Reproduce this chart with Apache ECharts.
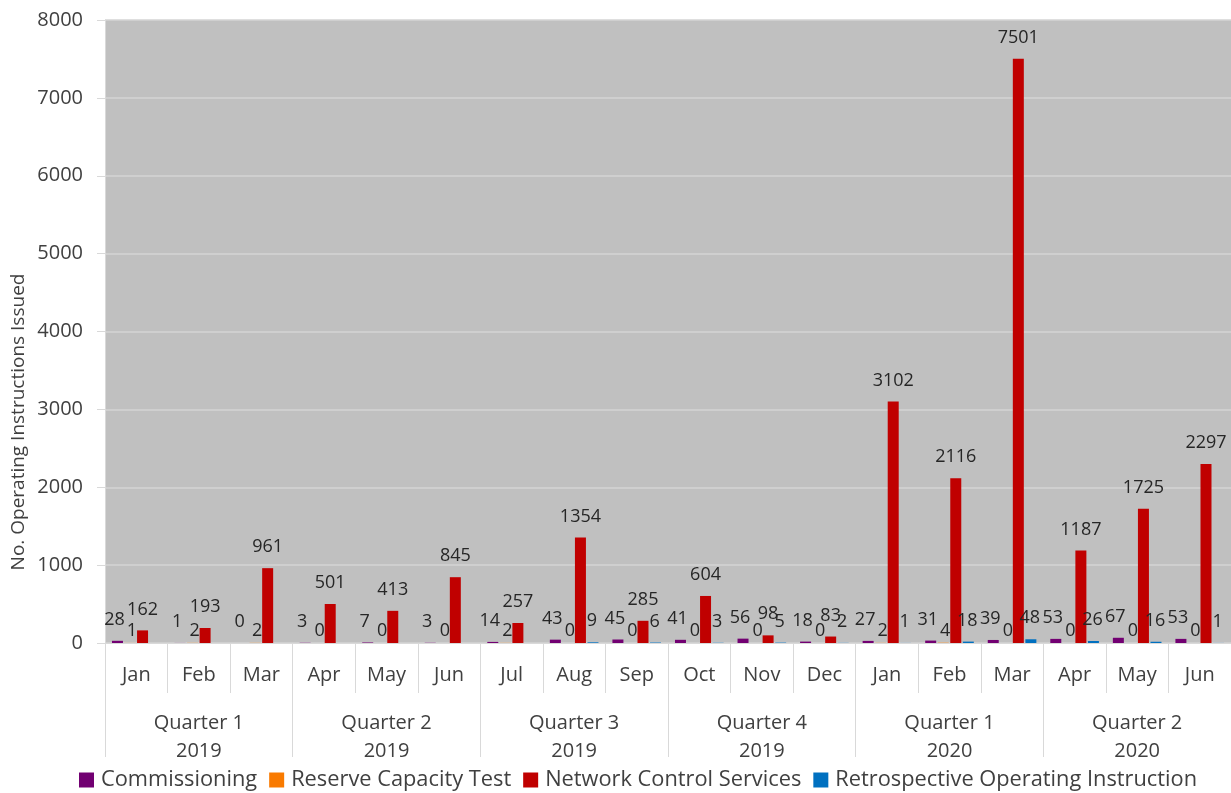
<!DOCTYPE html>
<html>
<head>
<meta charset="utf-8">
<script src="https://cdn.jsdelivr.net/npm/echarts@6/dist/echarts.min.js"></script>
<style>
  html, body { margin: 0; padding: 0; background: #fff; }
  #chart { width: 1231px; height: 793px; }
</style>
</head>
<body>
<div id="chart"></div>
<script>
const months = ['Jan', 'Feb', 'Mar', 'Apr', 'May', 'Jun', 'Jul', 'Aug', 'Sep', 'Oct', 'Nov', 'Dec',
  'Jan', 'Feb', 'Mar', 'Apr', 'May', 'Jun']
const quarters = ['Quarter 1\n2019', 'Quarter 2\n2019', 'Quarter 3\n2019', 'Quarter 4\n2019',
  'Quarter 1\n2020', 'Quarter 2\n2020']

const commissioning = [28, 1, 0, 3, 7, 3, 14, 43, 45, 41, 56, 18, 27, 31, 39, 53, 67, 53]
const reserveCapacity = [1, 2, 2, 0, 0, 0, 2, 0, 0, 0, 0, 0, 2, 4, 0, 0, 0, 0]
const networkControl = [162, 193, 961, 501, 413, 845, 257, 1354, 285, 604, 98, 83, 3102, 2116, 7501, 1187, 1725, 2297]
const retrospective = [null, null, null, null, null, null, null, 9, 6, 3, 5, 2, 1, 18, 48, 26, 16, 1]

const yMin = 0
const yMax = 8000
const yStep = 1000

const font = '"Open Sans", "Noto Sans", sans-serif'
const textColor = '#404040'
const lineColor = '#d9d9d9'

const chart = echarts.init(document.getElementById('chart'))

// labelOffset nudges small labels apart, roughly like the original
function barSeries(name, data, color, labelOffset) {
  return {
    name,
    type: 'bar',
    data,
    barWidth: 11,
    barGap: '14%',
    itemStyle: { color },
    label: {
      show: true,
      position: 'top',
      distance: 12,
      offset: labelOffset || [0, 0],
      color: '#262626',
      fontFamily: font,
      fontSize: 18,
    },
  }
}

chart.setOption({
  animation: false,
  textStyle: { fontFamily: font },
  grid: {
    left: 105,
    right: 0,
    top: 20,
    bottom: 150,
    show: true,
    backgroundColor: '#c0c0c0',
    borderWidth: 0,
  },
  legend: {
    top: 764,
    left: 74,
    itemWidth: 15,
    itemHeight: 15,
    itemGap: 12,
    icon: 'rect',
    textStyle: { color: textColor, fontSize: 21.8, fontFamily: font, padding: [0, 0, 0, 2] },
  },
  graphic: [
    {
      type: 'text',
      x: 9,
      y: 422,
      rotation: Math.PI / 2,
      style: {
        text: 'No. Operating Instructions Issued',
        fill: textColor,
        fontSize: 19,
        fontFamily: font,
        align: 'center',
        verticalAlign: 'top',
      },
    },
  ],
  xAxis: [
    {
      type: 'category',
      data: months,
      gridIndex: 0,
      axisLine: { show: true, lineStyle: { color: lineColor } },
      axisTick: { show: true, length: 50, lineStyle: { color: lineColor } },
      axisLabel: { color: textColor, fontSize: 20, margin: 22, fontFamily: font },
    },
    {
      type: 'category',
      data: quarters,
      gridIndex: 0,
      position: 'bottom',
      axisLine: { show: false },
      axisTick: { show: true, length: 114, lineStyle: { color: lineColor } },
      axisLabel: { color: textColor, fontSize: 20, margin: 66, lineHeight: 28, fontFamily: font },
    },
  ],
  yAxis: {
    type: 'value',
    min: yMin,
    max: yMax,
    interval: yStep,
    axisLine: { show: true, lineStyle: { color: lineColor } },
    axisTick: { show: true, length: 8, lineStyle: { color: lineColor } },
    axisLabel: {
      color: textColor,
      fontSize: 20,
      margin: 22,
      fontFamily: font,
      formatter: (value) => String(value),
    },
    splitLine: { lineStyle: { color: '#d4d4d4', width: 1.5 } },
  },
  series: [
    barSeries('Commissioning', commissioning, '#720072', [-3, 0]),
    barSeries('Reserve Capacity Test', reserveCapacity, '#f97a00', [2, 9]),
    barSeries('Network Control Services', networkControl, '#c00000'),
    barSeries('Retrospective Operating Instruction', retrospective, '#0070c0', [-1, 0]),
  ],
})
</script>
</body>
</html>
